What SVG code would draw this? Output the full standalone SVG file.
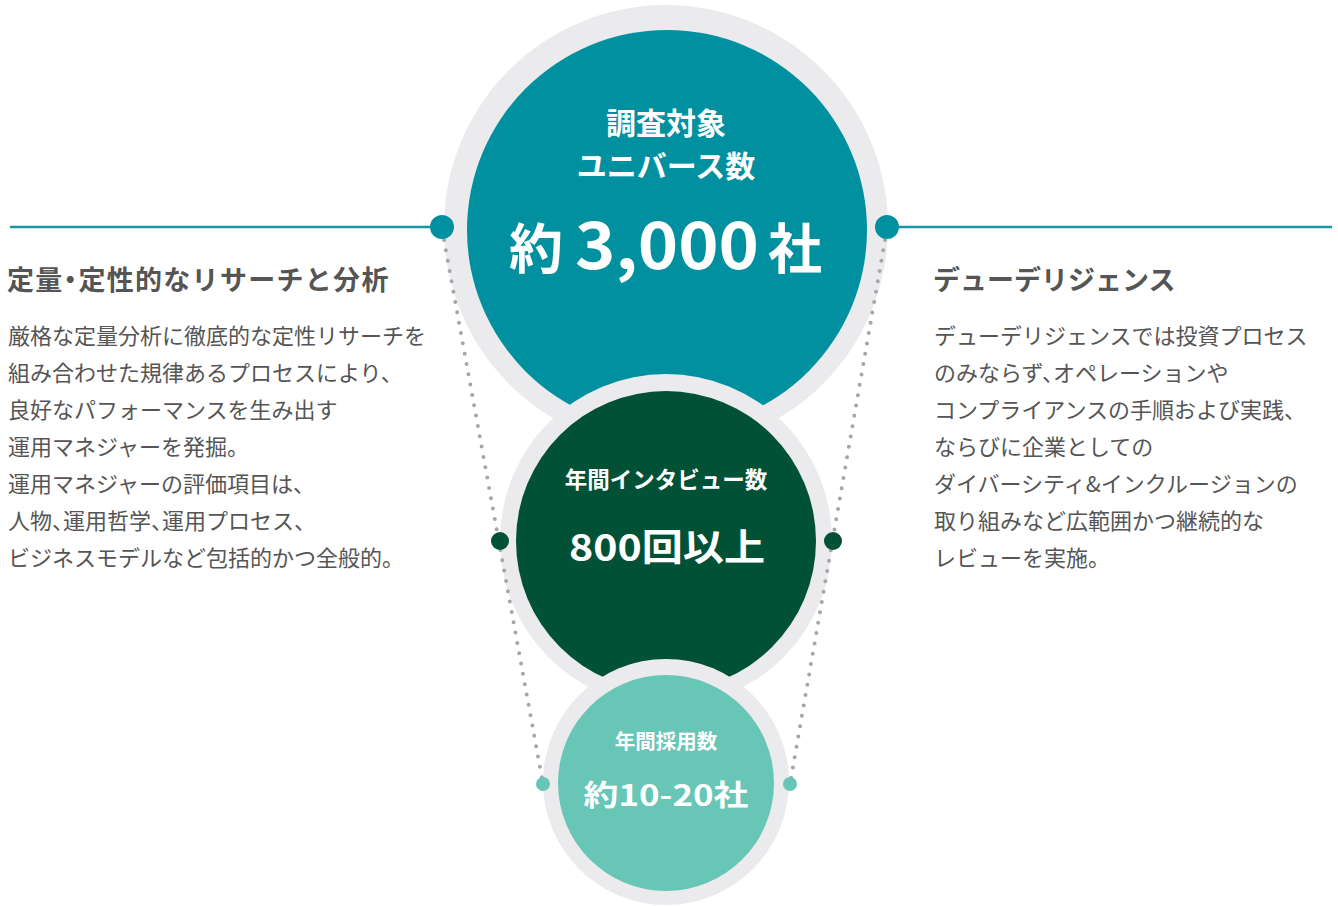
<svg xmlns="http://www.w3.org/2000/svg" width="1338" height="906" viewBox="0 0 1338 906">
<style>
.ring{fill:#ebebed}
.c1{fill:#0090a0}
.c2{fill:#005136}
.c3{fill:#68c6b6}
.w{fill:#ffffff;font-family:"Noto Sans CJK JP","Noto Sans",sans-serif;font-weight:700;text-anchor:middle}
.h{fill:#555555;font-family:"Noto Sans CJK JP",sans-serif;font-weight:700;font-size:27px;font-feature-settings:"halt"}
.b{fill:#555555;font-family:"Noto Sans CJK JP",sans-serif;font-weight:400;font-size:22px;font-feature-settings:"halt"}
.hl{stroke:#1a95a5;stroke-width:2.5;fill:none}
.dot{stroke:#a5a5aa;stroke-width:4;stroke-linecap:round;stroke-dasharray:0 10.5;fill:none}
</style>
<g id="node-universe">
<circle class="ring" cx="666" cy="227" r="222"/>
<circle class="c1" cx="667" cy="230" r="200"/>
</g>
<g id="node-interview">
<circle class="ring" cx="666" cy="540" r="166"/>
<circle class="c2" cx="666" cy="541" r="150"/>
</g>
<g id="node-adopt">
<circle class="ring" cx="666" cy="782" r="123"/>
<circle class="c3" cx="666" cy="783" r="108"/>
</g>
<g id="connectors">
<line class="hl" x1="10" y1="227" x2="442" y2="227"/>
<line class="hl" x1="887" y1="227" x2="1332" y2="227"/>
<line class="dot" x1="444" y1="240" x2="543" y2="784"/>
<line class="dot" x1="885" y1="240" x2="790" y2="784"/>
<circle cx="442" cy="227" r="12" fill="#0090a0"/>
<circle cx="887" cy="227" r="12" fill="#0090a0"/>
<circle cx="500" cy="541" r="9" fill="#005136"/>
<circle cx="833" cy="541" r="9" fill="#005136"/>
<circle cx="543" cy="784" r="7" fill="#68c6b6"/>
<circle cx="790" cy="784" r="7" fill="#68c6b6"/>
</g>
<g id="text-universe">
<text class="w" x="666" y="134" font-size="30">調査対象</text>
<text class="w" x="666" y="177" font-size="30">ユニバース数</text>
<text class="w" y="269" style="text-anchor:start"><tspan x="509" font-size="54">約</tspan><tspan x="575" font-size="64" textLength="184" lengthAdjust="spacingAndGlyphs">3,000</tspan><tspan x="768" font-size="54">社</tspan></text>
</g>
<g id="text-interview">
<text class="w" x="666" y="488" font-size="22.5">年間インタビュー数</text>
<text class="w" x="667" y="561" font-size="37" textLength="196" lengthAdjust="spacingAndGlyphs">800回以上</text>
</g>
<g id="text-adopt">
<text class="w" x="666" y="749" font-size="20.5">年間採用数</text>
<text class="w" x="666" y="806" font-size="29" textLength="165" lengthAdjust="spacingAndGlyphs">約10-20社</text>
</g>
<g id="left-text">
<text class="h" x="7" y="290" font-size="28" letter-spacing="1.3">定量・定性的なリサーチと分析</text>
<text class="b" x="8" y="344">厳格な定量分析に徹底的な定性リサーチを</text>
<text class="b" x="8" y="381">組み合わせた規律あるプロセスにより、</text>
<text class="b" x="8" y="418">良好なパフォーマンスを生み出す</text>
<text class="b" x="8" y="455">運用マネジャーを発掘。</text>
<text class="b" x="8" y="492">運用マネジャーの評価項目は、</text>
<text class="b" x="8" y="529">人物、運用哲学、運用プロセス、</text>
<text class="b" x="8" y="566">ビジネスモデルなど包括的かつ全般的。</text>
</g>
<g id="right-text">
<text class="h" x="933" y="290">デューデリジェンス</text>
<text class="b" x="934" y="344">デューデリジェンスでは投資プロセス</text>
<text class="b" x="934" y="381">のみならず、オペレーションや</text>
<text class="b" x="934" y="418">コンプライアンスの手順および実践、</text>
<text class="b" x="934" y="455">ならびに企業としての</text>
<text class="b" x="934" y="492">ダイバーシティ&amp;インクルージョンの</text>
<text class="b" x="934" y="529">取り組みなど広範囲かつ継続的な</text>
<text class="b" x="934" y="566">レビューを実施。</text>
</g>
</svg>
